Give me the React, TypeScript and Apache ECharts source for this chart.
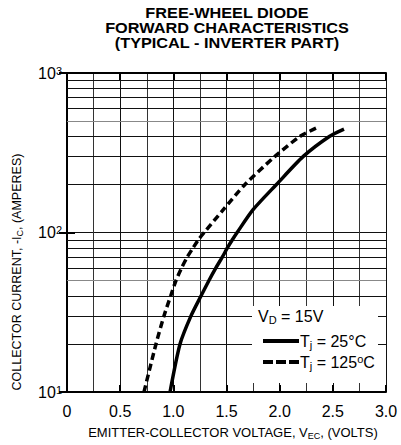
import React, { useEffect, useRef } from 'react';
import * as echarts from 'echarts';

// Data
const vec25 = [0.969, 1.063, 1.166, 1.26, 1.335, 1.40, 1.46, 1.508, 1.555, 1.60, 1.75, 1.97, 2.222, 2.467, 2.605];
const ic25 = [10, 20, 30, 40, 50, 60, 70, 80, 90, 100, 139, 200, 300, 400, 445];
const vec125 = [0.724, 0.837, 0.912, 0.975, 1.025, 1.078, 1.13, 1.185, 1.235, 1.29, 1.47, 1.674, 1.956, 2.19, 2.342];
const ic125 = [10, 20, 30, 40, 50, 60, 70, 80, 90, 100, 139, 200, 300, 400, 451];

const xMin = 0;
const xMax = 3.0;
const xInterval = 0.5;
const yMin = 10;
const yMax = 1000;
const minorGridY = [20, 30, 40, 50, 60, 70, 80, 90, 200, 300, 400, 500, 600, 700, 800, 900];
const greyGridY = [50, 500];

const titleLines = ['FREE-WHEEL DIODE', 'FORWARD CHARACTERISTICS', '(TYPICAL - INVERTER PART)'];

const FONT = "Helvetica, Arial, 'Liberation Sans', sans-serif";

export default function App() {
  const ref = useRef<HTMLDivElement>(null);
  useEffect(() => {
    document.body.style.margin = '0';
    if (!ref.current) return;
    const chart = echarts.init(ref.current, undefined, { renderer: 'svg' });
    const sup = (n: number) => '{b|10}{s|' + Math.round(Math.log10(n)) + '}';
    const option: any = {
      animation: false,
      backgroundColor: '#fff',
      textStyle: { fontFamily: FONT, color: '#000' },
      grid: { left: 67, top: 73, right: 15, bottom: 52 },
      xAxis: [
        {
          type: 'value',
          min: xMin,
          max: xMax,
          interval: xInterval,
          position: 'bottom',
          name: 'EMITTER-COLLECTOR VOLTAGE, {t|V}{sub|EC}{t|, (VOLTS)}',
          nameLocation: 'middle',
          nameGap: 33,
          nameTextStyle: {
            fontFamily: FONT,
            fontSize: 13,
            color: '#000',
            padding: [0, 0, 0, 13],
            rich: {
              t: { fontFamily: FONT, fontSize: 13, color: '#000' },
              sub: { fontFamily: FONT, fontSize: 9, color: '#000', verticalAlign: 'bottom', padding: [6, 0, 0, 0] },
            },
          },
          axisLine: { show: true, lineStyle: { color: '#000', width: 2 } },
          axisTick: { show: true, inside: true, length: 7, lineStyle: { color: '#000', width: 2 } },
          minorTick: { show: false, splitNumber: 2 },
          axisLabel: {
            fontFamily: FONT,
            fontSize: 16,
            color: '#000',
            margin: 11,
            formatter: (v: number) => (v === 0 ? '0' : v.toFixed(1)),
          },
          splitLine: { show: true, lineStyle: { color: '#111', width: 1 } },
          minorSplitLine: { show: true, lineStyle: { color: '#333', width: 1 } },
        },
        {
          type: 'value',
          min: xMin,
          max: xMax,
          interval: xInterval,
          position: 'top',
          axisLine: { show: true, lineStyle: { color: '#000', width: 2 } },
          axisTick: { show: true, inside: true, length: 7, lineStyle: { color: '#000', width: 2 } },
          axisLabel: { show: false },
          splitLine: { show: false },
        },
      ],
      yAxis: [
        {
          type: 'log',
          logBase: 10,
          min: yMin,
          max: yMax,
          position: 'left',
          axisLine: { show: true, lineStyle: { color: '#000', width: 2 } },
          axisTick: { show: true, inside: true, length: 8, lineStyle: { color: '#000', width: 2 } },
          axisLabel: {
            margin: 5,
            formatter: (v: number) => sup(v),
            rich: {
              b: { fontFamily: FONT, fontSize: 16, color: '#000' },
              s: { fontFamily: FONT, fontSize: 11, color: '#000', verticalAlign: 'top', padding: [0, 0, 3, 0] },
            },
          },
          splitLine: { show: true, lineStyle: { color: '#111', width: 1 } },
        },
        {
          type: 'log',
          logBase: 10,
          min: yMin,
          max: yMax,
          position: 'right',
          axisLine: { show: true, lineStyle: { color: '#000', width: 2 } },
          axisTick: { show: true, inside: true, length: 8, lineStyle: { color: '#000', width: 2 } },
          axisLabel: { show: false },
          splitLine: { show: false },
        },
      ],
      legend: {
        show: true,
        orient: 'vertical',
        left: 258,
        top: 328,
        z: 200,
        itemWidth: 36,
        itemHeight: 4,
        itemGap: 3,
        data: [
          { name: '25', icon: 'rect' },
          { name: '125', icon: 'path://M0,0h10v4h-10z M13,0h10v4h-10z M26,0h10v4h-10z' },
        ],
        itemStyle: { color: '#000', borderWidth: 0 },
        lineStyle: { width: 0 },
        formatter: (name: string) =>
          name === '25' ? '{t|T}{sub|j}{t| = 25°C}' : '{t|T}{sub|j}{t| = 125}{sup|o}{t|C}',
        textStyle: {
          fontFamily: FONT,
          fontSize: 16,
          color: '#000',
          padding: [0, 0, 0, -4],
          rich: {
            t: { fontFamily: FONT, fontSize: 16, color: '#000' },
            sub: { fontFamily: FONT, fontSize: 11, color: '#000', verticalAlign: 'bottom', padding: [7, 0, 0, 0] },
            sup: { fontFamily: FONT, fontSize: 11, color: '#000', verticalAlign: 'top', padding: [0, 0, 4, 0] },
          },
        },
      },
      graphic: [
        {
          type: 'text',
          x: 227,
          y: 5,
          scaleX: 1.1,
          z: 50,
          style: {
            text: titleLines.join('\n'),
            align: 'center',
            verticalAlign: 'top',
            fontFamily: FONT,
            fontSize: 14.8,
            fontWeight: 'bold',
            lineHeight: 15.3,
            fill: '#000',
          },
        },
        {
          type: 'rect',
          left: 252,
          top: 306,
          z: 100,
          shape: { width: 126, height: 77 },
          style: { fill: '#fff' },
          silent: true,
        },
        {
          type: 'text',
          left: 258,
          top: 308,
          z: 201,
          style: {
            text: '{t|V}{sub|D}{t| = 15V}',
            rich: {
              t: { fontFamily: FONT, fontSize: 16, fill: '#000' },
              sub: { fontFamily: FONT, fontSize: 11, fill: '#000', verticalAlign: 'bottom', padding: [7, 0, 0, 0] },
            },
          },
        },
        {
          type: 'text',
          x: 17,
          y: 272,
          rotation: Math.PI / 2,
          z: 50,
          style: {
            text: '{t|COLLECTOR CURRENT, -I}{sub|C}{t|, (AMPERES)}',
            align: 'center',
            verticalAlign: 'middle',
            rich: {
              t: { fontFamily: FONT, fontSize: 12.5, fill: '#000' },
              sub: { fontFamily: FONT, fontSize: 9, fill: '#000', verticalAlign: 'bottom', padding: [6, 0, 0, 0] },
            },
          },
        },
      ],
      series: [
        {
          name: '25',
          type: 'line',
          xAxisIndex: 0,
          yAxisIndex: 0,
          data: vec25.map((v, i) => [v, ic25[i]]),
          smooth: 0.25,
          symbol: 'none',
          showSymbol: false,
          lineStyle: { color: '#000', width: 3.5, type: 'solid' },
          itemStyle: { color: '#000' },
          z: 5,
          markLine: {
            silent: true,
            symbol: 'none',
            label: { show: false },
            animation: false,
            lineStyle: { color: '#111', width: 1, type: 'solid' },
            data: minorGridY.map((y) => ({
              yAxis: y,
              lineStyle: { color: greyGridY.includes(y) ? '#888' : '#111', width: 1, type: 'solid' },
            })),
          },
        },
        {
          name: '125',
          type: 'line',
          xAxisIndex: 0,
          yAxisIndex: 0,
          data: vec125.map((v, i) => [v, ic125[i]]),
          smooth: 0.25,
          symbol: 'none',
          showSymbol: false,
          lineStyle: { color: '#000', width: 3.5, type: [7, 4] },
          itemStyle: { color: '#000' },
          z: 5,
        },
      ],
    };
    chart.setOption(option);
    return () => chart.dispose();
  }, []);
  return <div ref={ref} style={{ width: 401, height: 445 }} />;
}
